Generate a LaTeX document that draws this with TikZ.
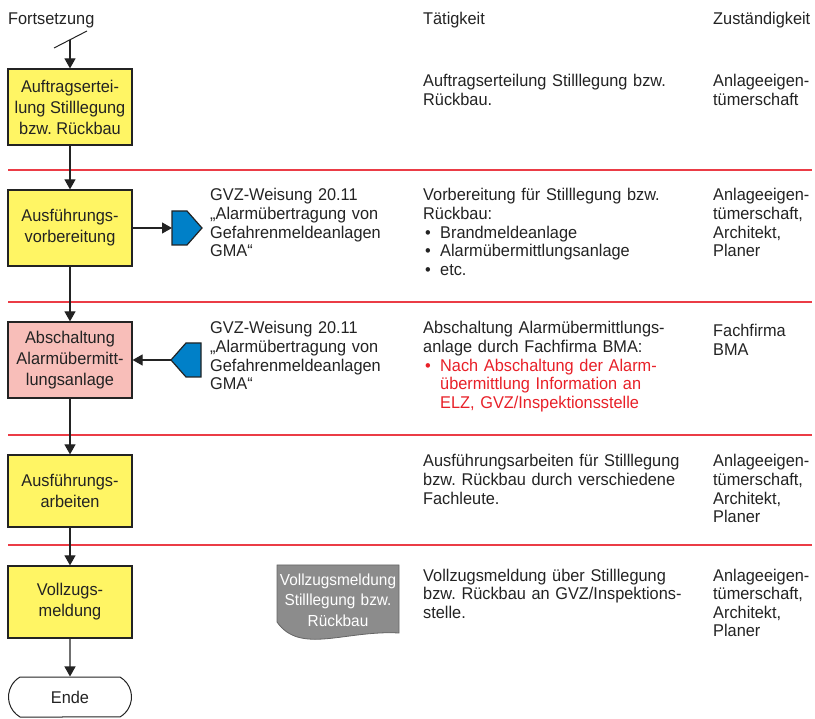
\documentclass[tikz,border=0pt]{standalone}
\usepackage{fontspec}
\setmainfont[FakeStretch=0.96]{Liberation Sans}
\AtBeginDocument{\frenchspacing}
\usetikzlibrary{arrows.meta,shapes.misc,calc}

\definecolor{boxyellow}{RGB}{255,245,100}
\definecolor{boxpink}{RGB}{248,190,185}
\definecolor{refblue}{RGB}{0,128,200}
\definecolor{rulered}{RGB}{235,60,70}
\definecolor{ink}{RGB}{35,35,35}
\definecolor{alertred}{RGB}{232,32,40}
\definecolor{docgray}{RGB}{140,140,140}

\newcommand\bul{\hspace*{2pt}\makebox[15pt][l]{•}}
\newcommand\bulind{\hspace*{17pt}}

\tikzset{
  stepbox/.style={draw=ink, line width=1.2pt, minimum width=124pt, inner sep=0pt,
    align=center, font=\fontsize{17}{21}\selectfont, text=ink},
  flow/.style={draw=ink, line width=1.2pt, -{Triangle[width=11pt,length=10pt]}},
  rowtext/.style={anchor=base west, inner sep=0pt, text width=300pt, align=left,
    font=\fontsize{17}{18.6}\selectfont, text=ink},
  header/.style={anchor=base west, inner sep=0pt, font=\fontsize{17}{18.6}\selectfont, text=ink},
  rowrule/.style={draw=rulered, line width=1.3pt},
  pent/.style={draw=ink, line width=1.2pt, fill=refblue},
}

\begin{document}
\begin{tikzpicture}[x=1pt, y=1pt]
\useasboundingbox (0,0) rectangle (815,-719);

% column headers
\node[header] (h1) at (8,-25) {Fortsetzung};
\node[header] (h2) at (423,-25) {Tätigkeit};
\node[header] (h3) at (713,-25) {Zuständigkeit};

% row separators
\foreach \yy in {170,302,435,545}
  \draw[rowrule] (8,-\yy) -- (812,-\yy);

% flow steps
\node[stepbox, fill=boxyellow, minimum height=76pt] (b1) at (70,-107)
  {Auftragsertei-\\lung Stilllegung\\bzw. Rückbau};
\node[stepbox, fill=boxyellow, minimum height=76pt] (b2) at (70,-228)
  {Ausführungs-\\vorbereitung};
\node[stepbox, fill=boxpink, minimum height=76pt] (b3) at (70,-360)
  {Abschaltung\\Alarmübermitt-\\lungsanlage};
\node[stepbox, fill=boxyellow, minimum height=72pt] (b4) at (70,-491)
  {Ausführungs-\\arbeiten};
\node[stepbox, fill=boxyellow, minimum height=72pt] (b5) at (70,-602)
  {Vollzugs-\\meldung};
\node[rounded rectangle, rounded rectangle arc length=120, draw=ink, line width=1pt,
  minimum width=123pt, minimum height=40pt, inner sep=0pt,
  font=\fontsize{17}{18.6}\selectfont, text=ink] (ende) at (70,-697) {Ende};

% continuation mark
\coordinate (start) at (70,-40);
\draw[ink, line width=1pt] ($(start)+(-16,-8)$) -- ($(start)+(17,9)$);

% vertical flow
\draw[flow] (start) -- (b1);
\draw[flow] (b1) -- (b2);
\draw[flow] (b2) -- (b3);
\draw[flow] (b3) -- (b4);
\draw[flow] (b4) -- (b5);
\draw[flow] (b5) -- (ende);

% reference documents (off-page connectors)
\coordinate (p1) at (172,-228);
\draw[pent] (p1) |- (187,-211) -- (202,-228) -- (187,-245) -| cycle;
\draw[flow] (b2) -- (p1);

\coordinate (p2) at (171,-360);
\draw[pent] (p2) -- (186,-343) -- (201,-343) -- (201,-377) -- (186,-377) -- cycle;
\draw[flow] (p2) -- (b3);

\node[rowtext, text width=200pt] (r1) at (210,-201)
  {GVZ-Weisung 20.11\\„Alarmübertragung von\\Gefahrenmeldeanlagen\\GMA“};
\node[rowtext, text width=200pt] (r2) at (210,-334)
  {GVZ-Weisung 20.11\\„Alarmübertragung von\\Gefahrenmeldeanlagen\\GMA“};

% completion report document
\draw[draw=ink!70, line width=0.8pt, fill=docgray]
  (277,-565) -- (399,-565) -- (399,-633)
  .. controls (345,-630) and (300,-655) .. (277,-622) -- cycle;
\node[anchor=base, inner sep=0pt, text width=124pt, align=center, text=white,
  font=\fontsize{16}{20.5}\selectfont] (doc) at (338,-585)
  {Vollzugsmeldung\\Stilllegung bzw.\\Rückbau};

% activities
\node[rowtext] (t1) at (423,-87)
  {Auftragserteilung Stilllegung bzw.\\Rückbau.};
\node[rowtext] (t2) at (423,-201)
  {Vorbereitung für Stilllegung bzw.\\Rückbau:\\\bul Brandmeldeanlage\\\bul Alarmübermittlungsanlage\\\bul etc.};
\node[rowtext] (t3) at (423,-334)
  {Abschaltung Alarmübermittlungs-\\anlage durch Fachfirma BMA:\\
   \textcolor{alertred}{\bul Nach Abschaltung der Alarm-}\\
   \textcolor{alertred}{\bulind übermittlung Information an}\\
   \textcolor{alertred}{\bulind ELZ, GVZ/Inspektionsstelle}};
\node[rowtext] (t4) at (423,-467)
  {Ausführungsarbeiten für Stilllegung\\bzw. Rückbau durch verschiedene\\Fachleute.};
\node[rowtext] (t5) at (423,-581)
  {Vollzugsmeldung über Stilllegung\\bzw. Rückbau an GVZ/Inspektions-\\stelle.};

% responsibilities
\node[rowtext, text width=100pt] (z1) at (713,-87) {Anlageeigen-\\tümerschaft};
\node[rowtext, text width=100pt] (z2) at (713,-201) {Anlageeigen-\\tümerschaft,\\Architekt,\\Planer};
\node[rowtext, text width=100pt] (z3) at (713,-337) {Fachfirma\\BMA};
\node[rowtext, text width=100pt] (z4) at (713,-467) {Anlageeigen-\\tümerschaft,\\Architekt,\\Planer};
\node[rowtext, text width=100pt] (z5) at (713,-581) {Anlageeigen-\\tümerschaft,\\Architekt,\\Planer};
\end{tikzpicture}
\end{document}
